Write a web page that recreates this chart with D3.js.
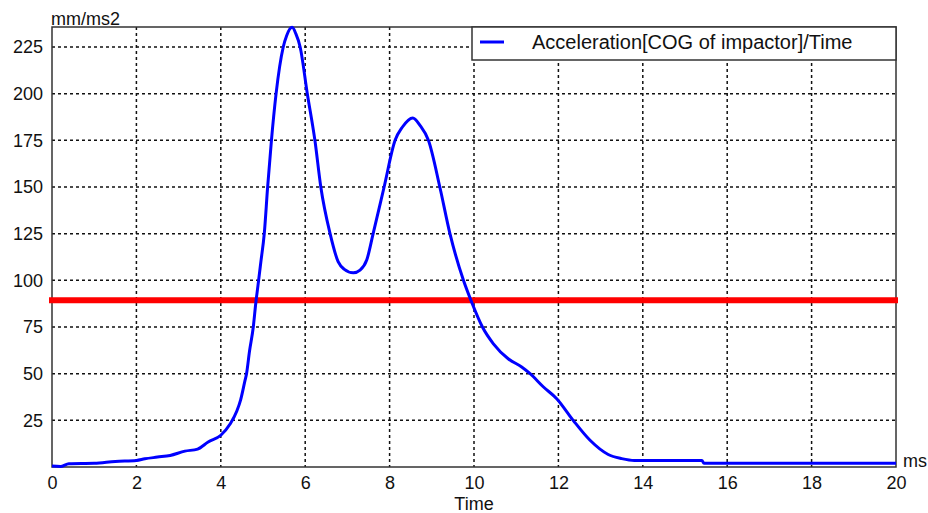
<!DOCTYPE html>
<html>
<head>
<meta charset="utf-8">
<script src="https://cdn.jsdelivr.net/npm/d3@7"></script>
<style>
	body { margin:0; background:#fff; }
	svg text { font-family:"Liberation Sans", Arial, sans-serif; fill:#111; }
</style>
</head>
<body>
<div id="chartDiv"></div>
<script>
// values
var times = [0, 0.2, 0.4, 1.0, 1.5, 2.0, 2.2, 2.5, 2.8, 3.15, 3.45, 3.7, 4.0, 4.22, 4.38, 4.47, 4.57, 4.61, 4.68, 4.77, 4.83, 4.88, 4.95, 5.03, 5.11, 5.2, 5.31, 5.48, 5.56, 5.69, 5.78, 5.88, 6.05, 6.23, 6.37, 6.59, 6.78, 6.92, 7.14, 7.3, 7.46, 7.61, 7.87, 8.13, 8.3, 8.55, 8.72, 8.92, 9.19, 9.43, 9.75, 9.95, 10.2, 10.46, 10.81, 11.13, 11.33, 11.64, 11.96, 12.35, 12.75, 13.18, 13.5, 13.8, 15.4, 15.45, 20];
var accel = [0.5, 0.3, 1.8, 2.0, 3.0, 3.5, 4.4, 5.3, 6.2, 8.5, 9.6, 13.4, 17, 23, 30, 36, 46, 50, 62, 75, 88, 97, 110, 125, 150, 175, 200, 225, 231, 235.5, 232, 225, 200, 175, 150, 125, 110, 106, 104, 105.5, 111, 125, 150, 175, 182, 187, 183, 175, 150, 125, 100, 88, 75, 66, 58, 53.6, 50, 43, 36.6, 25, 14.3, 6.7, 4.5, 3.5, 3.5, 2, 2];
var threshold = 89.3;
var xTicks = [0, 2, 4, 6, 8, 10, 12, 14, 16, 18, 20];
var yTicks = [25, 50, 75, 100, 125, 150, 175, 200, 225];
var yMax = 235.7;
var legendLabel = 'Acceleration[COG of impactor]/Time';

var W = 928, H = 513;
var pL = 52, pR = 896, pT = 27, pB = 467; // plot box

var svg = d3.select('#chartDiv').append('svg')
	.attr('width', W)
	.attr('height', H)

var x = d3.scaleLinear().domain([0, 20]).range([pL, pR]);
var y = d3.scaleLinear().domain([0, yMax]).range([pB, pT]);

// dotted grid
svg.selectAll('.vgrid').data(xTicks.slice(1, -1)).enter()
	.append('line')
		.attr('class','vgrid')
		.attr('x1', function(d){return x(d)})
		.attr('x2', function(d){return x(d)})
		.attr('y1', pT)
		.attr('y2', pB)
		.attr('stroke', '#111')
		.attr('stroke-width', 1.5)
		.attr('stroke-dasharray', '3,3')

svg.selectAll('.hgrid').data(yTicks).enter()
	.append('line')
		.attr('class','hgrid')
		.attr('x1', pL)
		.attr('x2', pR)
		.attr('y1', function(d){return y(d)})
		.attr('y2', function(d){return y(d)})
		.attr('stroke', '#111')
		.attr('stroke-width', 1.5)
		.attr('stroke-dasharray', '3,3')

// frame
svg.append('rect')
	.attr('x', pL)
	.attr('y', pT)
	.attr('width', pR - pL)
	.attr('height', pB - pT)
	.attr('fill', 'none')
	.attr('stroke', '#333')
	.attr('stroke-width', 1.5)

// axes, labels only
var xAxis = svg.append('g')
	.attr('transform', 'translate(0,' + pB + ')')
	.call(d3.axisBottom(x).tickValues(xTicks).tickSize(0).tickPadding(9))
xAxis.select('.domain').remove()
xAxis.selectAll('text')
	.style('font-size', '18px')
	.style('font-family', '"Liberation Sans", Arial, sans-serif')
	.attr('fill', '#111')

var yAxis = svg.append('g')
	.attr('transform', 'translate(' + pL + ',0)')
	.call(d3.axisLeft(y).tickValues(yTicks).tickSize(0).tickPadding(9))
yAxis.select('.domain').remove()
yAxis.selectAll('text')
	.style('font-size', '18px')
	.style('font-family', '"Liberation Sans", Arial, sans-serif')
	.attr('fill', '#111')

svg.append('text')
	.attr('x', 51)
	.attr('y', 25)
	.style('font-size', '18px')
	.text('mm/ms2')

svg.append('text')
	.attr('x', 903)
	.attr('y', 467)
	.style('font-size', '18px')
	.text('ms')

svg.append('text')
	.attr('x', x(10))
	.attr('y', 510)
	.attr('text-anchor', 'middle')
	.style('font-size', '18px')
	.text('Time')

// threshold line
svg.append('line')
	.attr('x1', pL - 3)
	.attr('x2', pR + 2)
	.attr('y1', y(threshold))
	.attr('y2', y(threshold))
	.attr('stroke', '#ff0000')
	.attr('stroke-width', 6)

// acceleration curve
var data = times.map(function(t, i){return {t: t, v: accel[i]}});
var line = d3.line()
	.x(function(d){return x(d.t)})
	.y(function(d){return y(d.v)})
	.curve(d3.curveMonotoneX);

svg.append('path')
	.datum(data)
	.attr('d', line)
	.attr('fill', 'none')
	.attr('stroke', '#0000ff')
	.attr('stroke-width', 3)

// legend box
var legend = svg.append('g');
legend.append('rect')
	.attr('x', 472)
	.attr('y', pT)
	.attr('width', pR - 472)
	.attr('height', 33)
	.attr('fill', '#fff')
	.attr('stroke', '#333')
	.attr('stroke-width', 1.5)
legend.append('line')
	.attr('x1', 480)
	.attr('x2', 504)
	.attr('y1', 42)
	.attr('y2', 42)
	.attr('stroke', '#0000ff')
	.attr('stroke-width', 3)
legend.append('text')
	.attr('x', 532)
	.attr('y', 49)
	.style('font-size', '20px')
	.text(legendLabel)
</script>
</body>
</html>
